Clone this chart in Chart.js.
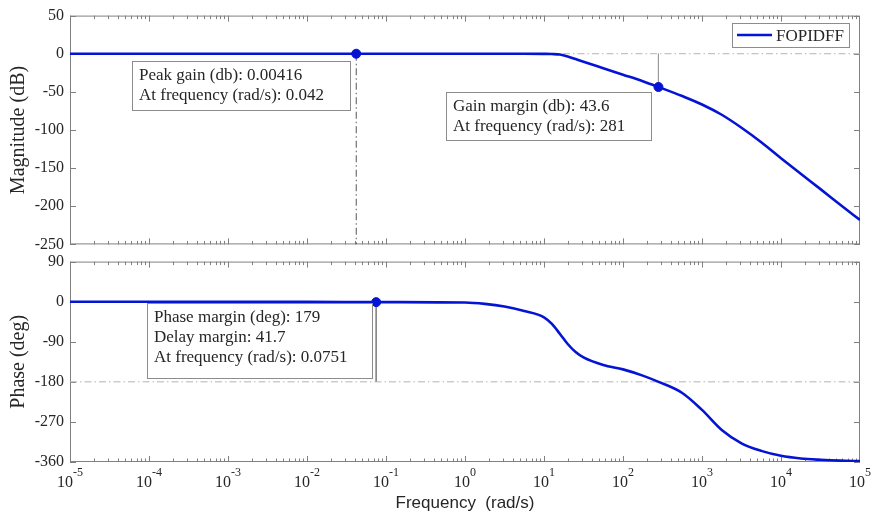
<!DOCTYPE html>
<html>
<head>
<meta charset="utf-8">
<script src="https://cdn.jsdelivr.net/npm/chart.js@4.4.1/dist/chart.umd.min.js"></script>
<style>
  body { margin: 0; background: #fff; }
  .wrap { position: relative; width: 872px; height: 520px; }
  #mag_chart { position: absolute; left: 0; top: 0; }
  #phase_chart { position: absolute; left: 0; top: 246px; }
</style>
</head>
<body>
<div class="wrap">
  <canvas id="mag_chart" width="872" height="260"></canvas>
  <canvas id="phase_chart" width="872" height="274"></canvas>
</div>
<script>
/* -----------------------
data
-------------------------- */
// frequency points as powers of ten (rad/s)
const freqExp = [-5, -4, -3, -2, -1, 0, 0.25, 0.5, 0.75, 1, 1.1, 1.2, 1.3, 1.4, 1.5, 1.75, 2, 2.25, 2.45, 2.75, 3, 3.25, 3.5, 3.75, 4, 4.25, 4.5, 4.75, 5];
const magDb = [0, 0, 0, 0, 0, 0, 0, 0, 0, -0.2, -0.4, -1, -3.5, -7, -10.5, -19, -27.5, -36, -43.6, -55.5, -66.5, -80, -97, -116, -137, -157.5, -177.5, -198, -218];
const phaseDeg = [0, 0, 0, -0.3, -1, -2, -5, -11, -21, -35, -50, -72, -95, -113, -125, -142, -152, -166, -180, -205, -243, -288, -318, -335, -346, -352, -355, -357, -358];

const decadeExp = [-5, -4, -3, -2, -1, 0, 1, 2, 3, 4, 5];
const magTicks = [50, 0, -50, -100, -150, -200, -250];
const phaseTicks = [90, 0, -90, -180, -270, -360];

// margin readouts
const peakGain = { w: 0.042, db: 0.00416 };
const gainMargin = { w: 281, db: 43.6 };
const phaseMargin = { w: 0.0751, deg: 179, delay: 41.7 };
const seriesName = "FOPIDFF";

const blue = "#0514d4";
const axisColor = "#808080";
const textColor = "#262626";
const serif = '"Liberation Serif", "Times New Roman", serif';

const magPoints = freqExp.map((e, i) => ({ x: Math.pow(10, e), y: magDb[i] }));
const phasePoints = freqExp.map((e, i) => ({ x: Math.pow(10, e), y: phaseDeg[i] }));

/* -----------------------
plugins: matlab style box, inside ticks, notes
-------------------------- */
const frameTicks = {
  id: "frameTicks",
  beforeDatasetsDraw(chart) {
    const { ctx, chartArea: a, scales } = chart;
    const x = scales.x, y = scales.y;
    ctx.save();
    ctx.strokeStyle = axisColor;
    ctx.lineWidth = 1;
    ctx.strokeRect(a.left + 0.5, a.top + 0.5, a.width - 1, a.height - 1);
    ctx.beginPath();
    for (let d = -5; d < 5; d++) {
      for (let m = 1; m < 10; m++) {
        const px = Math.round(x.getPixelForValue(m * Math.pow(10, d))) + 0.5;
        const len = m === 1 ? 6 : 3.5;
        ctx.moveTo(px, a.top); ctx.lineTo(px, a.top + len);
        ctx.moveTo(px, a.bottom); ctx.lineTo(px, a.bottom - len);
      }
    }
    y.ticks.forEach(t => {
      const py = Math.round(y.getPixelForValue(t.value)) + 0.5;
      ctx.moveTo(a.left, py); ctx.lineTo(a.left + 6, py);
      ctx.moveTo(a.right, py); ctx.lineTo(a.right - 6, py);
    });
    ctx.stroke();
    ctx.restore();
  }
};

const noteBoxes = {
  id: "noteBoxes",
  afterDatasetsDraw(chart, args, opts) {
    const ctx = chart.ctx;
    (opts.boxes || []).forEach(b => {
      ctx.save();
      ctx.fillStyle = "#fff";
      ctx.fillRect(b.left, b.top, b.w, b.h);
      ctx.strokeStyle = "#8c8c8c";
      ctx.lineWidth = 1;
      ctx.strokeRect(b.left + 0.5, b.top + 0.5, b.w, b.h);
      ctx.fillStyle = textColor;
      ctx.font = "17px " + serif;
      b.lines.forEach((txt, i) => ctx.fillText(txt, b.left + 7, b.top + 19 + i * 20));
      ctx.restore();
    });
    if (opts.legend) {
      const l = opts.legend;
      ctx.save();
      ctx.fillStyle = "#fff";
      ctx.fillRect(l.left, l.top, l.w, l.h);
      ctx.strokeStyle = "#8c8c8c";
      ctx.strokeRect(l.left + 0.5, l.top + 0.5, l.w, l.h);
      ctx.strokeStyle = blue;
      ctx.lineWidth = 2.5;
      ctx.beginPath();
      ctx.moveTo(l.left + 5, l.top + 12);
      ctx.lineTo(l.left + 40, l.top + 12);
      ctx.stroke();
      ctx.fillStyle = textColor;
      ctx.font = "17px " + serif;
      ctx.fillText(seriesName, l.left + 44, l.top + 18);
      ctx.restore();
    }
  }
};

const decadeLabels = {
  id: "decadeLabels",
  afterDraw(chart) {
    const { ctx, chartArea: a, scales } = chart;
    ctx.save();
    ctx.fillStyle = textColor;
    decadeExp.forEach(e => {
      const px = scales.x.getPixelForValue(Math.pow(10, e));
      ctx.font = "16px " + serif;
      const wb = ctx.measureText("10").width;
      ctx.font = "12px " + serif;
      const we = ctx.measureText(String(e)).width;
      const left = px - (wb + we) / 2;
      ctx.font = "16px " + serif;
      ctx.fillText("10", left, a.bottom + 25);
      ctx.font = "12px " + serif;
      ctx.fillText(String(e), left + wb, a.bottom + 14);
    });
    ctx.restore();
  }
};

/* -----------------------
shared options
-------------------------- */
const dashDot = [7, 3, 1.5, 3];

function refLine(points, color, dash) {
  return {
    data: points, borderColor: color, borderWidth: 1, borderDash: dash,
    pointRadius: 0, fill: false, order: 3
  };
}

function dot(point) {
  return {
    data: [point], showLine: false, pointRadius: 4.5,
    pointBackgroundColor: blue, pointBorderColor: blue, order: 0
  };
}

function yAxis(min, max, step, title, ticks) {
  return {
    min: min, max: max,
    afterBuildTicks: s => { s.ticks = ticks.map(v => ({ value: v })); },
    ticks: { stepSize: step, color: textColor, padding: 6, font: { family: serif, size: 16 } },
    grid: { display: false, drawTicks: false },
    border: { display: false },
    title: { display: true, text: title, color: textColor, padding: { top: 7, bottom: 0 }, font: { family: serif, size: 20 } },
    afterFit: s => { s.width = 70; }
  };
}

/* -----------------------
magnitude chart
-------------------------- */
new Chart(document.getElementById("mag_chart"), {
  type: "line",
  data: {
    datasets: [
      dot({ x: peakGain.w, y: peakGain.db }),
      dot({ x: gainMargin.w, y: -gainMargin.db }),
      { data: magPoints, borderColor: blue, borderWidth: 2.6, pointRadius: 0, cubicInterpolationMode: "monotone", fill: false, order: 1 },
      refLine([{ x: 1e-5, y: 0 }, { x: 1e5, y: 0 }], "#b4b4b4", dashDot),
      refLine([{ x: peakGain.w, y: 0 }, { x: peakGain.w, y: -250 }], "#555", dashDot),
      refLine([{ x: gainMargin.w, y: 0 }, { x: gainMargin.w, y: -gainMargin.db }], "#999", [])
    ]
  },
  options: {
    responsive: false,
    animation: false,
    devicePixelRatio: 1,
    layout: { padding: { top: 15, right: 12, bottom: 15, left: 0 } },
    scales: {
      x: { type: "logarithmic", min: 1e-5, max: 1e5, display: false },
      y: yAxis(-250, 50, 50, "Magnitude (dB)", magTicks)
    },
    plugins: {
      legend: { display: false },
      tooltip: { enabled: false },
      noteBoxes: {
        boxes: [
          { left: 132, top: 61, w: 218, h: 49, lines: ["Peak gain (db): " + peakGain.db, "At frequency (rad/s): " + peakGain.w] },
          { left: 446, top: 92, w: 205, h: 48, lines: ["Gain margin (db): " + gainMargin.db, "At frequency (rad/s): " + gainMargin.w] }
        ],
        legend: { left: 732, top: 23, w: 117, h: 24 }
      }
    }
  },
  plugins: [frameTicks, noteBoxes]
});

/* -----------------------
phase chart
-------------------------- */
new Chart(document.getElementById("phase_chart"), {
  type: "line",
  data: {
    datasets: [
      dot({ x: phaseMargin.w, y: phaseMargin.deg - 180 }),
      { data: phasePoints, borderColor: blue, borderWidth: 2.6, pointRadius: 0, cubicInterpolationMode: "monotone", fill: false, order: 1 },
      refLine([{ x: 1e-5, y: -180 }, { x: 1e5, y: -180 }], "#b4b4b4", dashDot),
      refLine([{ x: phaseMargin.w, y: phaseMargin.deg - 180 }, { x: phaseMargin.w, y: -180 }], "#888", [])
    ]
  },
  options: {
    responsive: false,
    animation: false,
    devicePixelRatio: 1,
    layout: { padding: { top: 12, right: 12, bottom: 0, left: 0 } },
    scales: {
      x: {
        type: "logarithmic", min: 1e-5, max: 1e5,
        ticks: { display: false },
        grid: { display: false, drawTicks: false },
        border: { display: false },
        title: { display: true, text: "Frequency  (rad/s)", color: textColor, padding: { top: 6, bottom: 6 }, font: { family: '"Liberation Sans", Arial, sans-serif', size: 17 } },
        afterFit: s => { s.height = 58; }
      },
      y: yAxis(-360, 90, 90, "Phase (deg)", phaseTicks)
    },
    plugins: {
      legend: { display: false },
      tooltip: { enabled: false },
      noteBoxes: {
        boxes: [
          { left: 147, top: 57, w: 225, h: 75, lines: ["Phase margin (deg): " + phaseMargin.deg, "Delay margin: " + phaseMargin.delay, "At frequency (rad/s): " + phaseMargin.w] }
        ]
      }
    }
  },
  plugins: [frameTicks, noteBoxes, decadeLabels]
});
</script>
</body>
</html>
